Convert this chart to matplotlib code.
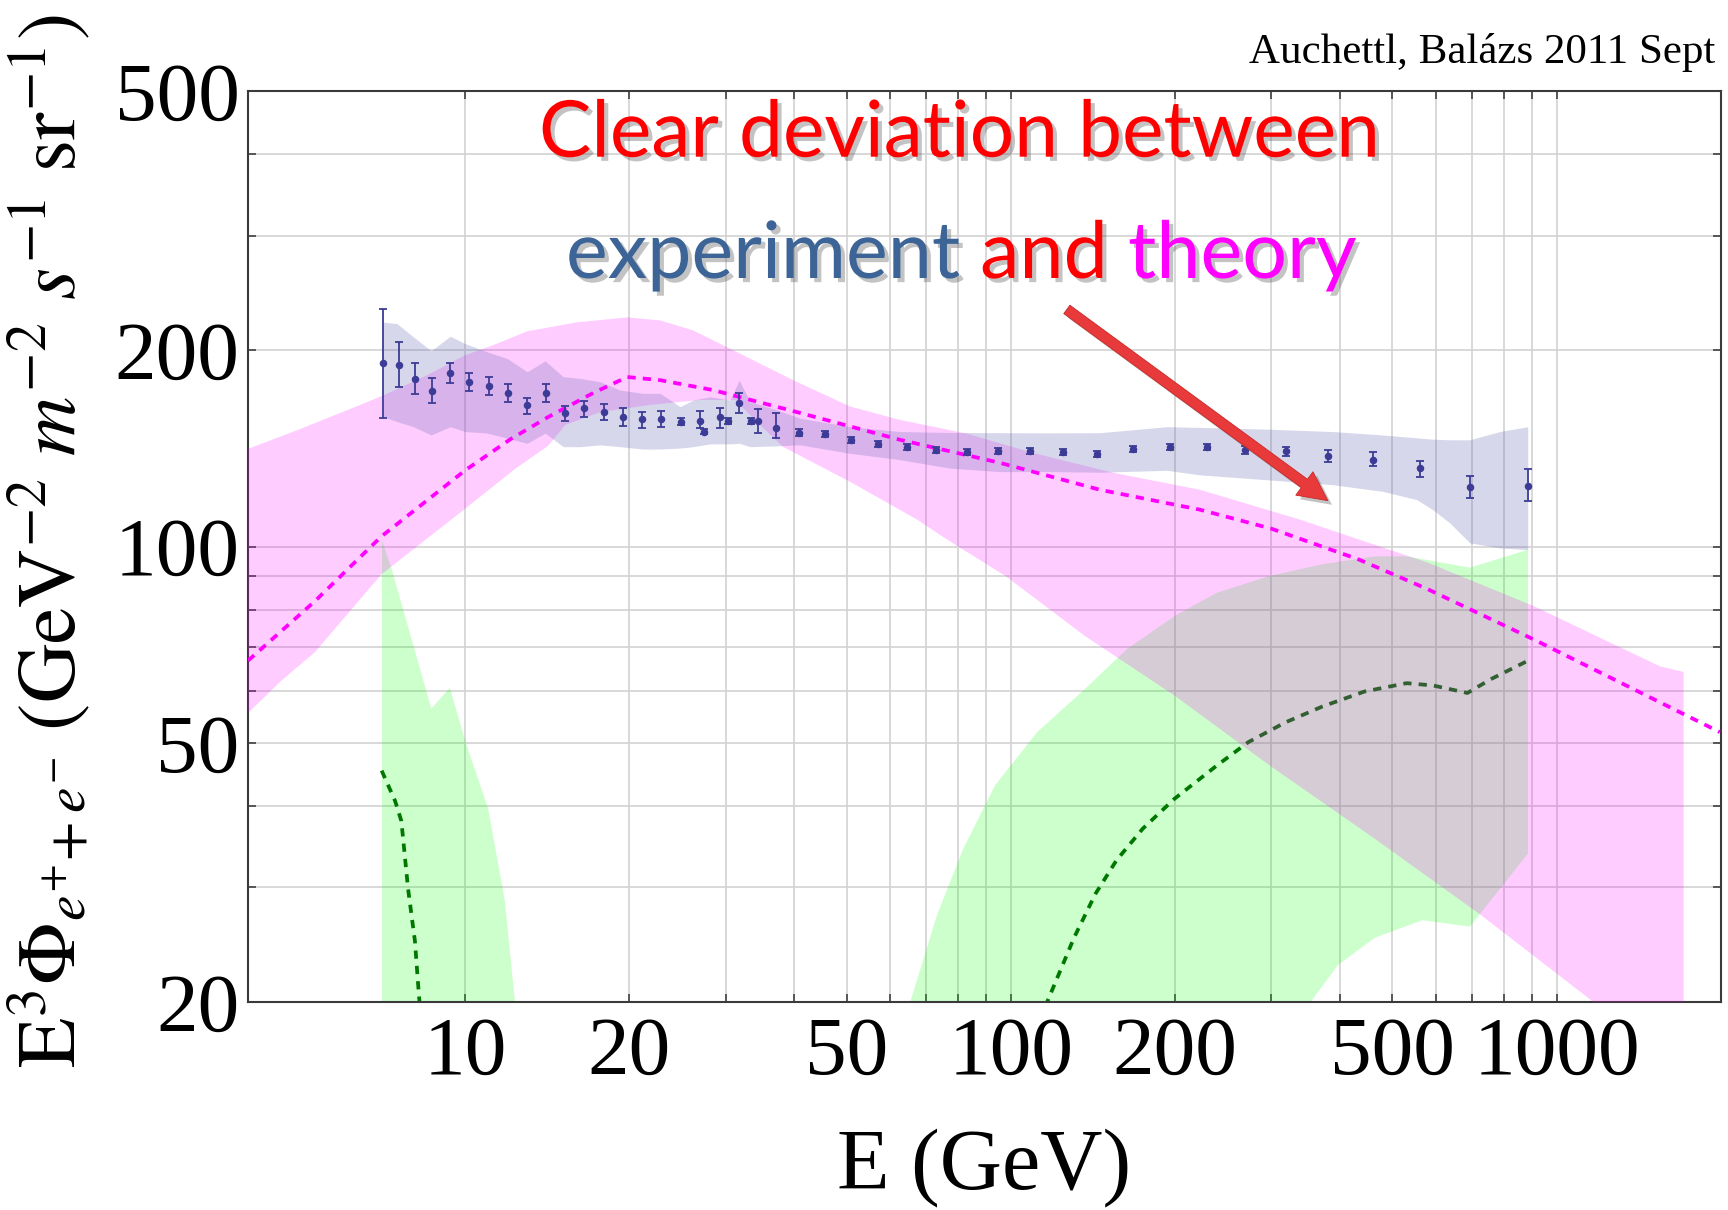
import numpy as np
import matplotlib
matplotlib.use('Agg')
import matplotlib.pyplot as plt
from matplotlib import patheffects as pe
from matplotlib.ticker import FixedLocator, FixedFormatter, NullLocator
from matplotlib.transforms import IdentityTransform

plt.rcParams['font.family'] = ['Liberation Serif', 'DejaVu Serif']
plt.rcParams['mathtext.fontset'] = 'stix'

# ---------------- data ----------------
# measured points (E [GeV], flux, lower, upper)
data_E = [7.07, 7.57, 8.10, 8.69, 9.36, 10.16, 11.08, 11.97, 12.97, 14.07, 15.22, 16.52,
          17.95, 19.47, 21.10, 22.89, 24.84, 26.91, 27.37, 29.31, 30.27, 31.76, 33.41,
          34.45, 37.12, 40.96, 45.62, 50.93, 57.15, 64.42, 72.98, 82.96, 94.77, 108.6,
          124.7, 143.6, 167.1, 195.3, 228.2, 268.6, 318.9, 380.7, 460.3, 561.0, 693.8, 887.6]
data_F = [191.3, 189.9, 180.9, 173.4, 184.8, 178.6, 176.3, 172.2, 164.7, 172.2, 160.4, 163.0,
          160.8, 158.1, 156.8, 157.1, 155.5, 155.9, 150.1, 157.9, 155.9, 166.3, 155.9,
          155.9, 151.9, 149.6, 149.0, 145.7, 143.7, 142.2, 140.7, 139.8, 140.2, 140.2,
          139.7, 138.7, 141.1, 142.1, 141.9, 140.7, 140.1, 137.8, 135.9, 131.9, 123.4, 124.0]
data_lo = [157.7, 175.5, 171.2, 166.1, 178.0, 173.4, 170.8, 166.8, 159.7, 166.8, 156.0, 158.2,
           156.4, 153.1, 152.2, 152.6, 153.8, 151.9, 148.6, 152.0, 154.2, 160.1, 154.2,
           149.4, 146.8, 148.0, 147.4, 144.2, 142.2, 140.8, 139.3, 138.4, 138.8, 138.8,
           138.3, 137.3, 139.6, 140.6, 140.4, 138.7, 137.8, 135.0, 132.7, 127.8, 118.7, 117.6]
data_hi = [231.7, 206.0, 191.3, 181.3, 191.3, 184.4, 182.0, 177.5, 168.8, 177.5, 164.3, 167.3,
           165.5, 163.0, 161.0, 161.5, 157.2, 161.5, 151.6, 163.3, 157.6, 172.2, 157.6,
           162.5, 160.3, 151.2, 150.6, 147.2, 145.2, 143.6, 142.1, 141.2, 141.6, 141.6,
           141.1, 140.1, 142.6, 143.6, 143.4, 142.7, 142.3, 140.7, 139.4, 135.5, 128.4, 131.6]

# systematic band of the measurement
lav_E = [7.07, 7.50, 8.04, 8.66, 9.39, 10.0, 10.97, 11.94, 12.99, 14.01, 15.12, 16.24, 17.67,
         19.22, 21.18, 22.76, 24.76, 26.16, 28.10, 30.57, 31.76, 33.27, 37.28, 41.09, 50.72,
         62.62, 77.32, 95.48, 117.9, 145.5, 193.1, 221.9, 294.3, 388.9, 480.1, 554.1, 592.7,
         636.8, 693.0, 786.4, 885.0]
lav_hi = [221.0, 219.8, 209.7, 199.7, 210.2, 204.8, 198.9, 194.3, 185.4, 192.7, 182.2, 181.1,
          179.0, 173.8, 171.8, 171.8, 163.9, 167.8, 169.7, 167.8, 180.0, 166.8, 162.0, 157.3,
          152.7, 150.1, 149.6, 149.5, 149.4, 149.5, 152.7, 152.3, 151.4, 150.1, 148.3, 146.8,
          146.1, 145.8, 145.8, 150.1, 152.7]
lav_lo = [158.2, 155.5, 152.7, 148.3, 152.7, 150.1, 149.3, 146.6, 144.0, 149.3, 142.3, 142.3,
          143.2, 142.3, 141.1, 141.1, 141.6, 142.3, 143.7, 143.7, 144.0, 142.3, 142.7, 143.2,
          139.0, 135.9, 131.9, 130.3, 130.3, 130.0, 130.9, 128.8, 126.6, 124.4, 121.5, 118.0,
          113.9, 108.7, 101.3, 99.5, 98.9]

# theory band (magenta)
pink_up_E = [4.0, 4.99, 6.42, 7.08, 8.52, 10.0, 11.25, 12.99, 16.03, 19.81, 22.76, 26.16,
             30.19, 39.89, 50.72, 62.62, 83.07, 109.7, 153.8, 221.9, 338.2, 434.0, 580.3,
             907.8, 1544, 1708]
pink_up_F = [141.2, 151.5, 164.9, 170.6, 183.2, 196.6, 203.7, 213.9, 220.8, 224.7, 222.3, 214.6,
             202.2, 180.0, 164.0, 156.4, 149.0, 139.2, 129.8, 122.2, 110.0, 102.5, 94.5,
             81.0, 65.5, 64.2]
pink_lo_E = [4.0, 4.60, 5.31, 7.02, 10.0, 12.35, 14.19, 15.25, 17.67, 21.82, 26.94, 31.23,
             34.70, 38.23, 50.72, 67.27, 76.35, 97.9, 136.6, 199.7, 298.1, 464.2, 726, 1159, 1708]
pink_lo_F = [55.5, 62.2, 68.9, 90.6, 114.3, 131.6, 142.7, 153.6, 160.8, 164.9, 167.8, 167.8,
             153.6, 142.2, 125.7, 110.0, 102.5, 90.0, 72.9, 59.0, 46.1, 35.6, 27.2, 20.1, 15.6]
mag_E = [4.0, 5.31, 7.02, 10.0, 12.09, 14.19, 17.16, 19.81, 22.76, 28.46, 41.09, 62.62,
         95.48, 145.5, 221.9, 300.0, 434.0, 580.3, 907.8, 1990]
mag_F = [66.8, 82.5, 103.6, 130.9, 146.0, 158.0, 172.0, 182.0, 180.0, 173.8, 160.3, 145.8,
         134.4, 122.2, 113.9, 106.5, 95.5, 86.0, 72.0, 51.9]

# green bands and lines
gl_E = [7.04, 7.04, 7.33, 8.67, 9.375, 10.0, 11.02, 11.82, 12.33, 12.45]
gl_F = [15.0, 102.2, 92.5, 56.4, 60.7, 50.35, 39.6, 28.6, 20.1, 15.0]
gld_E = [7.03, 7.44, 7.64, 7.86, 8.09, 8.23, 8.30]
gld_F = [45.3, 40.7, 37.9, 29.8, 24.8, 20.4, 19.0]
gr_up_E = [62, 65.5, 73.2, 81.8, 93.5, 111.7, 136.5, 163.1, 199.3, 238.2, 297.6, 371.8,
           464.5, 531.0, 693.4, 886]
gr_up_F = [17.3, 20.1, 27.2, 34.4, 43.0, 51.9, 60.4, 69.6, 78.2, 84.9, 90.1, 93.9,
           96.6, 96.6, 92.8, 98.9]
gr_lo_E = [335, 355.6, 397.5, 464.5, 567.5, 693.4, 886]
gr_lo_F = [17.5, 20.1, 22.8, 25.1, 26.7, 26.1, 33.8]
grd_E = [110, 116.8, 130.5, 142.8, 156.1, 174.4, 199.3, 238.2, 272.3, 318.1, 371.8, 444.2,
         531.0, 593.4, 686.0, 758.0, 886]
grd_F = [17.8, 20.1, 25.1, 29.3, 33.0, 36.9, 41.0, 46.1, 50.1, 53.7, 56.8, 59.9,
         61.7, 61.2, 59.6, 62.6, 66.8]

x_ticks = [10, 20, 30, 40, 50, 60, 70, 80, 90, 100, 200, 300, 400, 500, 600, 700, 800, 900, 1000]
x_labeled = [10, 20, 50, 100, 200, 500, 1000]
y_ticks = [20, 30, 40, 50, 60, 70, 80, 90, 100, 200, 300, 400, 500]
y_labeled = [20, 50, 100, 200, 500]

arrow_from = (126.6, 231.1)
arrow_to = (380.7, 117.6)

# ---------------- figure ----------------
FW, FH, DPI = 1728, 1210, 100
fig = plt.figure(figsize=(FW / DPI, FH / DPI), dpi=DPI)
ax = fig.add_axes([248 / FW, 1 - 1002 / FH, (1721 - 248) / FW, (1002 - 91) / FH])
ax.set_xscale('log')
ax.set_yscale('log')
ax.set_xlim(4, 2000)
ax.set_ylim(20, 500)

green = '#00ff00'
ax.fill(gl_E, gl_F, color=green, alpha=0.2, lw=0, zorder=1)
ax.fill(gr_up_E + gr_lo_E[::-1], gr_up_F + gr_lo_F[::-1], color=green, alpha=0.2, lw=0, zorder=1)
ax.plot(gld_E, gld_F, color='#007800', lw=2.7, dashes=(2.2, 1.9), zorder=2)
ax.plot(grd_E, grd_F, color='#007800', lw=2.7, dashes=(2.2, 1.9), zorder=2)

ax.fill(pink_up_E + pink_lo_E[::-1], pink_up_F + pink_lo_F[::-1], color='#ff00ff',
        alpha=0.2, lw=0, zorder=3)
ax.fill_between(lav_E, lav_lo, lav_hi, color='#7070b8', alpha=0.28, lw=0, zorder=4)
ax.plot(mag_E, mag_F, color='#ff00ff', lw=2.7, dashes=(2.2, 1.9), zorder=5)

dF = np.array(data_F)
yerr = [dF - np.array(data_lo), np.array(data_hi) - dF]
ax.errorbar(data_E, data_F, yerr=yerr, fmt='o', ms=4.4, color='#3c3c96', ecolor='#3c3c96',
            elinewidth=1.3, capsize=2.8, capthick=1.3, zorder=6)

# axes styling
ax.grid(True, which='major', color='#d2d2d2', lw=1.2)
ax.set_axisbelow(True)
ax.xaxis.set_major_locator(FixedLocator(x_ticks))
ax.xaxis.set_major_formatter(FixedFormatter([str(v) if v in x_labeled else '' for v in x_ticks]))
ax.xaxis.set_minor_locator(NullLocator())
ax.yaxis.set_major_locator(FixedLocator(y_ticks))
ax.yaxis.set_major_formatter(FixedFormatter([str(v) if v in y_labeled else '' for v in y_ticks]))
ax.yaxis.set_minor_locator(NullLocator())
ax.tick_params(which='both', direction='in', top=True, right=True, length=5.5, width=1.2,
               color='#404040', labelsize=60)
ax.tick_params(axis='x', pad=10)
ax.tick_params(axis='y', pad=6)
for s in ax.spines.values():
    s.set_color('#3a3a3a')
    s.set_linewidth(1.5)

fig.text(984.5 / FW, 1 - 1188 / FH, 'E (GeV)', ha='center', va='baseline', size=62)
fig.text(0.029, 0.553,
         r'$\mathrm{E}^{3}\Phi_{e^{+}\!+e^{-}}\ (\mathrm{GeV}^{-2}\ m^{-2}\ s^{-1}\ \mathrm{sr}^{-1})$',
         rotation=90, ha='center', va='center', size=59)
fig.text(1715 / FW, 1 - 63 / FH, 'Auchettl, Balázs 2011 Sept', ha='right', va='baseline', size=31)

# red arrow
ax.annotate('', xy=arrow_to, xytext=arrow_from, zorder=8,
            arrowprops=dict(arrowstyle='simple,head_length=0.95,head_width=0.95,tail_width=0.34',
                            fc='#e83a3a', ec='#c82828', lw=0.6, mutation_scale=22,
                            shrinkA=0, shrinkB=0,
                            path_effects=[pe.SimplePatchShadow(offset=(3, -3), shadow_rgbFace='#555555', alpha=0.35),
                                          pe.Normal()]))

# overlay text
shadow = [pe.SimplePatchShadow(offset=(3, -3), shadow_rgbFace='#555555', alpha=0.35), pe.Normal()]
renderer = fig.canvas.get_renderer()
idt = IdentityTransform()

t1 = fig.text(959, FH - 156.7, 'Clear deviation between', transform=idt, ha='center',
              va='baseline', color='#ff0000', family='Lato', size=60, path_effects=shadow, zorder=10)
w = t1.get_window_extent(renderer).width
t1.set_fontsize(60 * 842 / w)

fs2 = 60
probe = fig.text(0, 0, 'experiment and theory', transform=idt, family='Lato', size=fs2)
fs2 *= 792 / probe.get_window_extent(renderer).width
probe.set_fontsize(fs2)
w_all = probe.get_window_extent(renderer).width
probe.set_text('experiment and')
w_ea = probe.get_window_extent(renderer).width
probe.set_text('and')
w_and = probe.get_window_extent(renderer).width
probe.set_text('theory')
w_th = probe.get_window_extent(renderer).width
probe.remove()
x0, yb = 566, FH - 278
for txt, xx, col in [('experiment', x0, '#3c6496'), ('and', x0 + w_ea - w_and, '#ff0000'),
                     ('theory', x0 + w_all - w_th, '#ff00ff')]:
    fig.text(xx, yb, txt, transform=idt, ha='left', va='baseline', color=col, family='Lato',
             size=fs2, path_effects=shadow, zorder=10)

fig.savefig('out.png', dpi=DPI)
